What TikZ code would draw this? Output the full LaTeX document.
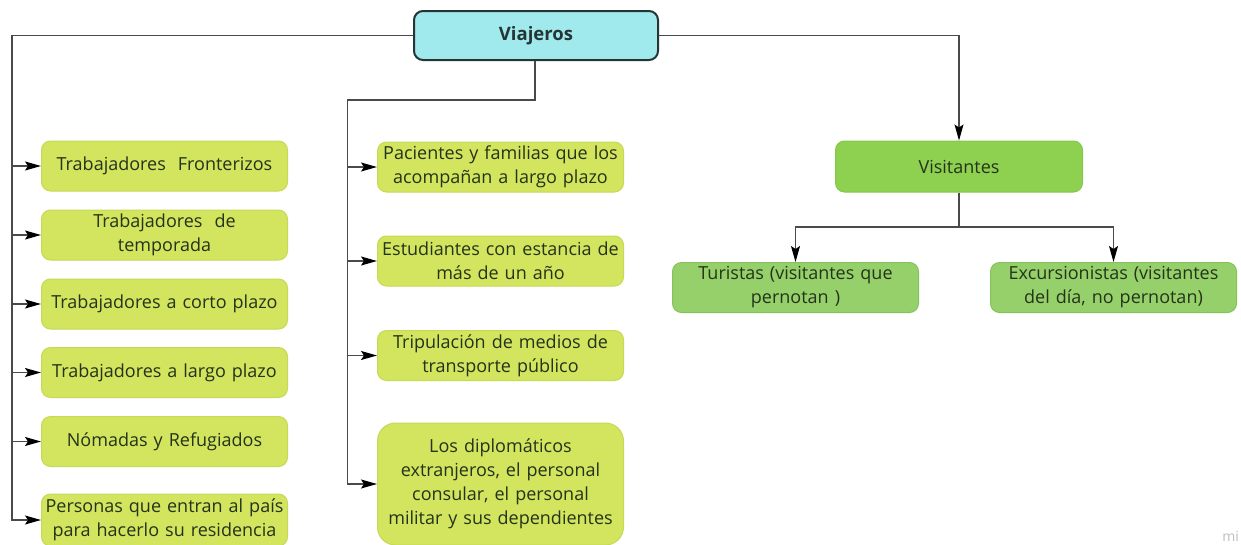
\documentclass[tikz,border=0pt]{standalone}
\usepackage{fontspec}
\setmainfont{Open Sans}
\usetikzlibrary{arrows.meta}
\definecolor{ylw}{HTML}{D3E45F}
\definecolor{ylwb}{HTML}{C6DA55}
\definecolor{vgreen}{HTML}{8ED150}
\definecolor{vgreenb}{HTML}{84C84A}
\definecolor{lgreen}{HTML}{96D06A}
\definecolor{lgreenb}{HTML}{86C25C}
\definecolor{cyanf}{HTML}{A0E9EC}
\definecolor{cyanb}{HTML}{253535}
\definecolor{txt}{HTML}{24331A}
\definecolor{conn}{HTML}{4A4A4A}
\begin{document}
\begin{tikzpicture}[x=1pt,y=-1pt,
  every node/.style={font=\fontsize{18}{24}\selectfont, text=txt, align=center, inner sep=0pt},
  ybox/.style={draw=ylwb, fill=ylw, line width=1pt, rounded corners=9pt, minimum width=246pt, minimum height=50pt, text width=244pt},
  gbox/.style={draw=lgreenb, fill=lgreen, line width=1pt, rounded corners=9pt, minimum width=246pt, minimum height=50pt, text width=244pt},
  conline/.style={draw=conn, line width=1.2pt},
  arr/.style={conline, -{Stealth[length=16pt,width=9pt,inset=3pt,color=black,fill=black]}}
]
\useasboundingbox (0,0) rectangle (1241,544);
\fill[white] (0,0) rectangle (1241,544);

\node[draw=cyanb, fill=cyanf, line width=2pt, rounded corners=9pt, minimum width=244pt, minimum height=49pt, font=\fontsize{18.5}{22}\selectfont\bfseries, text=cyanb] (vj) at (536,35.5) {Viajeros};

% left column
\node[ybox] (L1) at (164.5,166) {Trabajadores\ \ Fronterizos};
\node[ybox] (L2) at (164.5,235) {Trabajadores\ \ de\\temporada};
\node[ybox] (L3) at (164.5,304) {Trabajadores a corto plazo};
\node[ybox] (L4) at (164.5,372.5) {Trabajadores a largo plazo};
\node[ybox] (L5) at (164.5,441.5) {Nómadas y Refugiados};
\node[ybox, minimum height=52pt] (L6) at (164.5,520) {Personas que entran al país\\para hacerlo su residencia};

% middle column
\node[ybox] (M1) at (500.5,167) {Pacientes y familias que los\\acompañan a largo plazo};
\node[ybox] (M2) at (500.5,261) {Estudiantes con estancia de\\más de un año};
\node[ybox] (M3) at (500.5,355.5) {Tripulación de medios de\\transporte público};
\node[ybox, minimum height=122pt, rounded corners=18pt] (M4) at (500.5,484) {Los diplomáticos\\extranjeros, el personal\\consular, el personal\\militar y sus dependientes};

% right side
\node[draw=vgreenb, fill=vgreen, line width=1pt, rounded corners=9pt, minimum width=247pt, minimum height=51pt] (vis) at (959,166.5) {Visitantes};
\node[gbox] (tur) at (795.5,287.5) {Turistas (visitantes que\\pernotan )};
\node[gbox] (exc) at (1113.5,287.5) {Excursionistas (visitantes\\del día, no pernotan)};

% connectors
\coordinate (lt) at (12,35.5);
\coordinate (mt) at (347.5,100);
\coordinate (vh) at (959,227);

\draw[arr] (vj.west) -- (lt) |- (L6.west);
\foreach \n in {L1,L2,L3,L4,L5}{\draw[arr] (lt |- \n.west) -- (\n.west);}

\draw[arr] (vj.south -| 535,0) |- (mt) |- (M4.west);
\foreach \n in {M1,M2,M3}{\draw[arr] (mt |- \n.west) -- (\n.west);}

\draw[arr] (vj.east) -| (vis.north);
\draw[conline] (vis.south) -- (vh);
\draw[arr] (vh) -| (tur.north);
\draw[arr] (vh) -| (exc.north);

\node[text=black!25, font=\fontsize{14}{14}\selectfont, anchor=base east] (wm) at (1239,541) {mi};
\end{tikzpicture}
\end{document}
